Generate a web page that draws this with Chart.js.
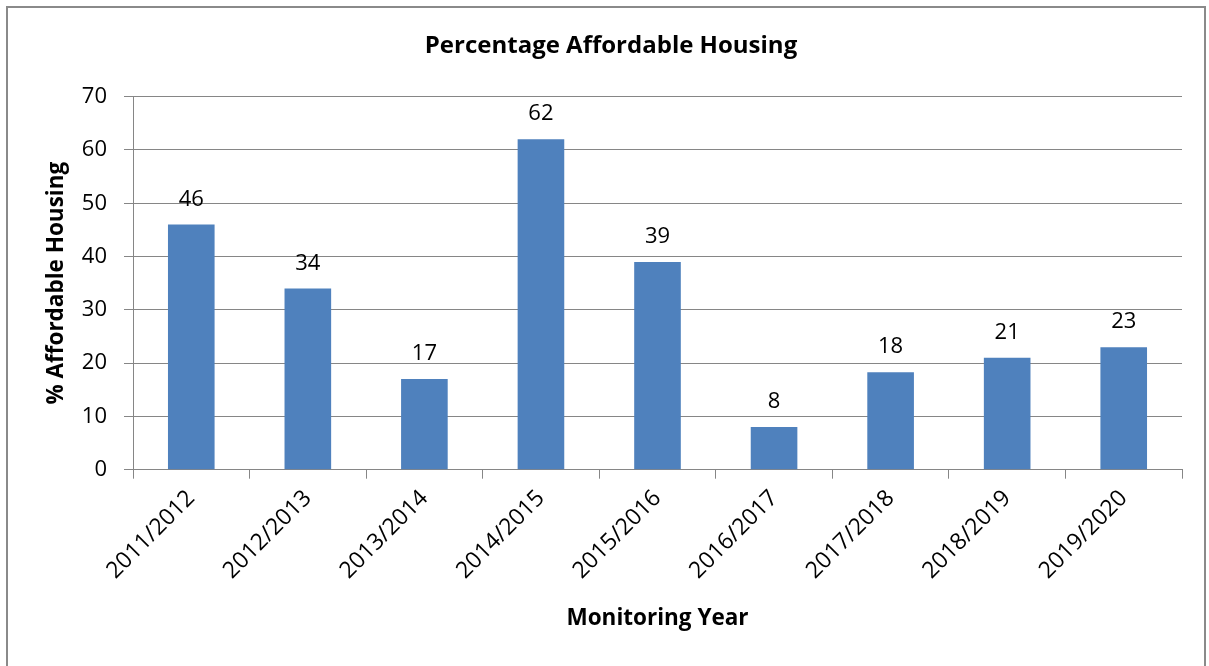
<!DOCTYPE html>
<html>
<head>
<meta charset="utf-8">
<title>Percentage Affordable Housing</title>
<script src="https://cdn.jsdelivr.net/npm/chart.js@4.4.1/dist/chart.umd.min.js"></script>
<style>
	html, body { margin: 0; padding: 0; background: #fff; }
	#wrap { position: relative; width: 1209px; height: 666px; overflow: hidden; }
	#frame {
		position: absolute; left: 6px; top: 6px; width: 1200px; height: 700px;
		border: 2px solid #8a8a8a; box-sizing: border-box;
	}
	#housingChart { position: absolute; left: 0; top: 0; }
</style>
</head>
<body>
<div id="wrap">
	<div id="frame"></div>
	<canvas id="housingChart" width="1209" height="666"></canvas>
</div>
<script>
const years = [
	"2011/2012", "2012/2013", "2013/2014", "2014/2015", "2015/2016",
	"2016/2017", "2017/2018", "2018/2019", "2019/2020",
];
const affordablePct = [46, 34, 17, 62, 39, 8, 18.3, 21, 23];
const yTicks = [0, 10, 20, 30, 40, 50, 60, 70];

document.addEventListener("DOMContentLoaded", function () {
	const ctx = document.getElementById("housingChart");
	const gridGray = "#868686";
	const font = "'Open Sans', 'Liberation Sans', sans-serif";

	// value labels above each bar
	const barLabels = {
		id: "barLabels",
		afterDatasetsDraw(chart) {
			const c = chart.ctx;
			const meta = chart.getDatasetMeta(0);
			c.save();
			c.font = "22px " + font;
			c.fillStyle = "#000";
			c.textAlign = "center";
			c.textBaseline = "alphabetic";
			meta.data.forEach((bar, i) => {
				c.fillText(String(Math.round(affordablePct[i])), bar.x, bar.y - 19);
			});
			c.restore();
		},
	};

	new Chart(ctx, {
		type: "bar",
		data: {
			labels: years,
			datasets: [
				{
					label: "% Affordable Housing",
					data: affordablePct,
					backgroundColor: "#4f81bd",
					borderWidth: 0,
					barPercentage: 0.4,
					categoryPercentage: 1,
				},
			],
		},
		options: {
			responsive: false,
			animation: false,
			layout: { padding: { left: 40, right: 27, top: 0, bottom: 30 } },
			plugins: {
				legend: { display: false },
				tooltip: { enabled: false },
				title: {
					display: true,
					text: "Percentage Affordable Housing",
					color: "#000",
					font: { family: font, size: 24, weight: "bold", lineHeight: 1.2 },
					padding: { top: 31.6, bottom: 36.3 },
				},
			},
			scales: {
				x: {
					offset: true,
					grid: {
						display: true,
						offset: true,
						drawOnChartArea: false,
						drawTicks: true,
						tickLength: 9,
						color: gridGray,
					},
					border: { display: true, color: gridGray, width: 1 },
					ticks: {
						color: "#000",
						font: { family: font, size: 23 },
						maxRotation: 45,
						minRotation: 45,
						padding: 6,
						autoSkip: false,
					},
					title: {
						display: true,
						text: "Monitoring Year",
						color: "#000",
						font: { family: font, size: 22.5, weight: "bold", lineHeight: 1.2 },
						padding: { top: 4, bottom: 3.5 },
					},
					afterFit(scale) {
						scale.height = 666 - 30 - 469.7;
					},
				},
				y: {
					min: 0,
					max: 70,
					afterBuildTicks(scale) {
						scale.ticks = yTicks.map((v) => ({ value: v }));
					},
					grid: {
						color: gridGray,
						lineWidth: 1,
						tickLength: 9,
					},
					border: { display: true, color: gridGray, width: 1 },
					ticks: {
						color: "#000",
						font: { family: font, size: 22 },
						padding: 17,
					},
					title: {
						display: true,
						text: "% Affordable Housing",
						color: "#000",
						font: { family: font, size: 22.5, weight: "bold", lineHeight: 1.2 },
						padding: { top: 3.5, bottom: 4 },
					},
					afterFit(scale) {
						scale.width = 133 - 40;
					},
				},
			},
		},
		plugins: [barLabels],
	});
});
</script>
</body>
</html>
